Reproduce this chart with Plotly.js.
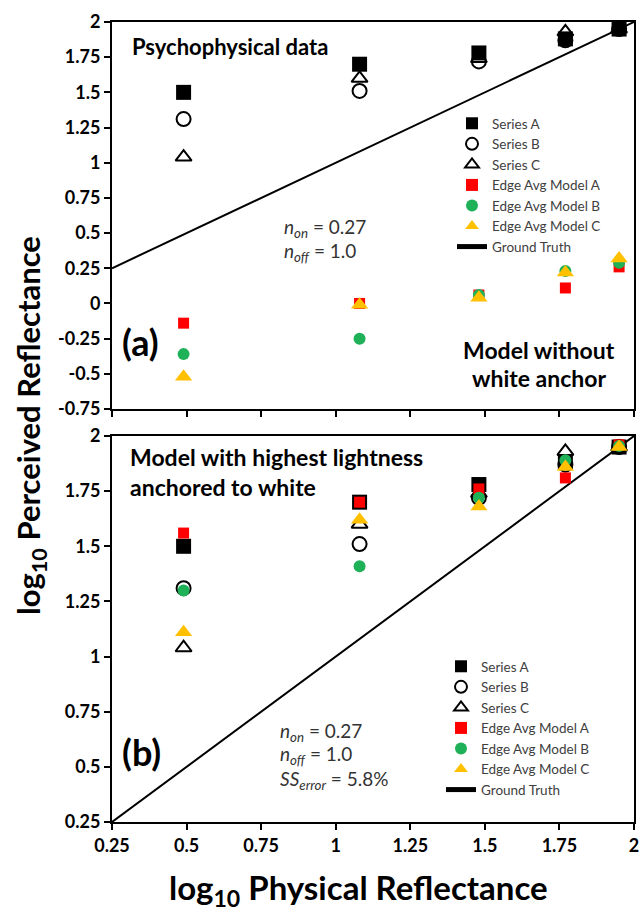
<!DOCTYPE html>
<html>
<head>
<meta charset="utf-8">
<script src="https://cdn.plot.ly/plotly-3.0.1.min.js"></script>
<style>
  html, body { margin: 0; padding: 0; background: #fff; }
  #chart { width: 642px; height: 911px; }
</style>
</head>
<body>
<div id="chart"></div>
<script>
// ---------------- DATA ----------------
const xPhysical = [0.49, 1.08, 1.48, 1.77, 1.95];

// Psychophysical data (same in both panels)
const seriesA = [1.50, 1.70, 1.78, 1.88, 1.95];
const seriesB = [1.31, 1.51, 1.72, 1.87, 1.95];
const seriesC = [1.04, 1.60, 1.74, 1.93, 1.95];

// Panel (a): model without white anchor
const modelA_noAnchor = [-0.14, 0.00, 0.06, 0.11, 0.26];
const modelB_noAnchor = [-0.36, -0.25, 0.06, 0.23, 0.29];
const modelC_noAnchor = [-0.52, -0.01, 0.04, 0.22, 0.32];

// Panel (b): model with highest lightness anchored to white
const modelA_anchor = [1.56, 1.70, 1.76, 1.81, 1.96];
const modelB_anchor = [1.30, 1.41, 1.72, 1.89, 1.955];
const modelC_anchor = [1.11, 1.62, 1.68, 1.86, 1.95];

// Ground truth line
const truthX = [0.25, 2];
const truthY = [0.25, 2];

const seriesNames = ["Series A", "Series B", "Series C",
                     "Edge Avg Model A", "Edge Avg Model B", "Edge Avg Model C",
                     "Ground Truth"];

const xTickVals = [0.25, 0.5, 0.75, 1, 1.25, 1.5, 1.75, 2];
const xTickText = ["0.25", "0.5", "0.75", "1", "1.25", "1.5", "1.75", "2"];
const yTickValsA = [-0.75, -0.5, -0.25, 0, 0.25, 0.5, 0.75, 1, 1.25, 1.5, 1.75, 2];
const yTickTextA = ["-0.75", "-0.5", "-0.25", "0", "0.25", "0.5", "0.75", "1", "1.25", "1.5", "1.75", "2"];
const yTickValsB = [0.25, 0.5, 0.75, 1, 1.25, 1.5, 1.75, 2];
const yTickTextB = ["0.25", "0.5", "0.75", "1", "1.25", "1.5", "1.75", "2"];

// ---------------- STYLE ----------------
const FONT = "Lato, 'Open Sans', sans-serif";
const RED = "#ff0000", GREEN = "#1fb158", GOLD = "#ffc000";

const styles = [
  {symbol: "square", size: 15, color: "#000"},
  {symbol: "circle-open", size: 14, color: "#000", line: {width: 2, color: "#000"}},
  {symbol: "triangle-up-open", size: 14, color: "#000", line: {width: 2, color: "#000"}},
  {symbol: "square", size: 11, color: RED},
  {symbol: "circle", size: 12, color: GREEN},
  {symbol: "triangle-up", size: 15, color: GOLD}
];

function panelTraces(xa, ya, legendId, models) {
  const ys = [seriesA, seriesB, seriesC, models[0], models[1], models[2]];
  const traces = [{
    type: "scatter", mode: "lines", x: truthX, y: truthY, xaxis: xa, yaxis: ya,
    name: seriesNames[6], legend: legendId, legendrank: 2000,
    line: {color: "#000", width: 2}, hoverinfo: "skip"
  }];
  ys.forEach((yv, i) => {
    traces.push({
      type: "scatter", mode: "markers", x: xPhysical, y: yv, xaxis: xa, yaxis: ya,
      name: seriesNames[i], legend: legendId, legendrank: 100 + i,
      marker: styles[i], cliponaxis: false
    });
  });
  return traces;
}

const data = [].concat(
  panelTraces("x2", "y2", "legend", [modelA_noAnchor, modelB_noAnchor, modelC_noAnchor]),
  panelTraces("x", "y", "legend2", [modelA_anchor, modelB_anchor, modelC_anchor])
);

// pixel helpers for layout placement (plot area: x 112..634, y 22..822)
const L = 112, R = 8, T = 22, B = 89, W = 642, H = 911;
const PW = W - L - R, PH = H - T - B;
const px = p => (p - L) / PW;
const py = p => (H - B - p) / PH;

const axisCommon = {
  showline: true, linecolor: "#000", linewidth: 2, mirror: true,
  ticks: "outside", ticklen: 6, tickwidth: 2, tickcolor: "#000",
  showgrid: false, zeroline: false,
  tickfont: {family: FONT, size: 18, color: "#000", weight: "bold"}
};

function ann(text, x, y, size, opts) {
  return Object.assign({
    text: text, xref: "paper", yref: "paper", x: px(x), y: py(y),
    xanchor: "left", yanchor: "middle", showarrow: false,
    font: {family: FONT, size: size, color: "#000"}
  }, opts || {});
}
const bold = (size, color) => ({family: FONT, size: size, color: color || "#000", weight: "bold"});
const reg = (size, color) => ({family: FONT, size: size, color: color || "#333"});

const layout = {
  width: W, height: H,
  margin: {l: L, r: R, t: T, b: B},
  paper_bgcolor: "#fff", plot_bgcolor: "#fff",
  font: {family: FONT},
  xaxis: Object.assign({}, axisCommon, {anchor: "y", range: [0.25, 2],
    tickvals: xTickVals, ticktext: xTickText}),
  yaxis: Object.assign({}, axisCommon, {anchor: "x", domain: [0, py(436)], range: [0.25, 2],
    tickvals: yTickValsB, ticktext: yTickTextB}),
  xaxis2: Object.assign({}, axisCommon, {anchor: "y2", range: [0.25, 2],
    tickvals: xTickVals, showticklabels: false}),
  yaxis2: Object.assign({}, axisCommon, {anchor: "x2", domain: [py(409), 1], range: [-0.75, 2],
    tickvals: yTickValsA, ticktext: yTickTextA}),
  legend: {
    x: px(452), y: py(108), xanchor: "left", yanchor: "top",
    bgcolor: "rgba(0,0,0,0)", itemsizing: "constant", tracegroupgap: 0,
    font: {family: FONT, size: 13.5, color: "#404040"}
  },
  legend2: {
    x: px(441), y: py(651), xanchor: "left", yanchor: "top",
    bgcolor: "rgba(0,0,0,0)", itemsizing: "constant", tracegroupgap: 0,
    font: {family: FONT, size: 13.5, color: "#404040"}
  },
  annotations: [
    ann("Psychophysical data", 130, 46, 22, {font: bold(22)}),
    ann("(a)", 120, 342, 36, {font: bold(36)}),
    ann("Model without", 539, 350, 23, {xanchor: "center", font: bold(23)}),
    ann("white anchor", 539, 378, 23, {xanchor: "center", font: bold(23)}),
    ann("<i>n<sub>on</sub></i> = 0.27", 282, 228, 19, {font: reg(19)}),
    ann("<i>n<sub>off</sub></i> = 1.0", 282, 252, 19, {font: reg(19)}),
    ann("Model with highest lightness", 128, 457, 23, {font: bold(23)}),
    ann("anchored to white", 128, 487, 23, {font: bold(23)}),
    ann("(b)", 120, 752, 36, {font: bold(36)}),
    ann("<i>n<sub>on</sub></i> = 0.27", 278, 732, 19, {font: reg(19)}),
    ann("<i>n<sub>off</sub></i> = 1.0", 278, 755, 19, {font: reg(19)}),
    ann("<i>SS<sub>error</sub></i> = 5.8%", 278, 780, 19, {font: reg(19)}),
    ann("log<sub>10</sub> Perceived Reflectance", 30, 426, 31,
        {xanchor: "center", textangle: -90, font: bold(31)}),
    ann("log<sub>10</sub> Physical Reflectance", 358, 889, 33,
        {xanchor: "center", font: bold(33)})
  ]
};

Plotly.newPlot("chart", data, layout, {displayModeBar: false, staticPlot: true});
</script>
</body>
</html>
